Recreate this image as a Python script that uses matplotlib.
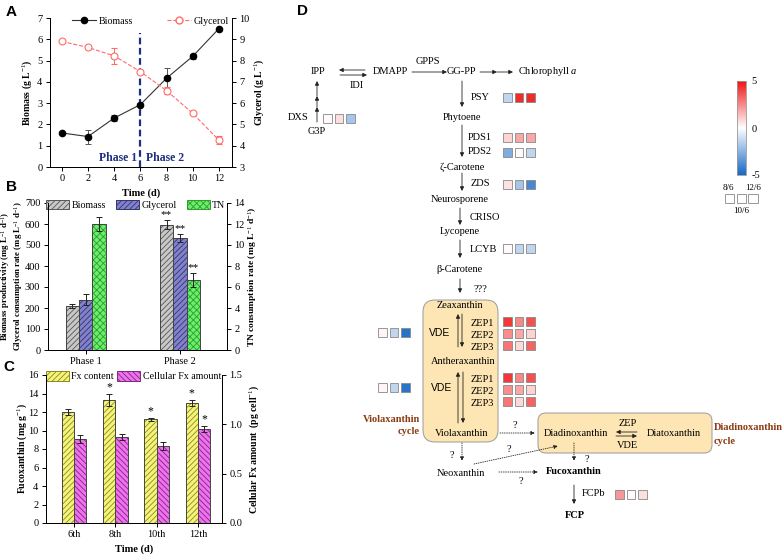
import matplotlib
matplotlib.use('Agg')
import matplotlib.pyplot as plt
import numpy as np
from matplotlib.patches import Rectangle, FancyBboxPatch, Patch
from matplotlib.lines import Line2D
from matplotlib.colors import LinearSegmentedColormap, Normalize
from matplotlib.cm import ScalarMappable

plt.rcParams['font.family'] = ['Liberation Serif', 'DejaVu Serif']
plt.rcParams['mathtext.fontset'] = 'custom'
plt.rcParams['mathtext.rm'] = 'Liberation Serif'
plt.rcParams['mathtext.it'] = 'Liberation Serif:italic'
plt.rcParams['mathtext.bf'] = 'Liberation Serif:bold'
plt.rcParams['font.size'] = 7.5
plt.rcParams['hatch.linewidth'] = 0.6
plt.rcParams['axes.linewidth'] = 0.7
plt.rcParams['xtick.major.size'] = 3
plt.rcParams['ytick.major.size'] = 3
plt.rcParams['xtick.major.width'] = 0.7
plt.rcParams['ytick.major.width'] = 0.7
plt.rcParams['xtick.major.pad'] = 2
plt.rcParams['ytick.major.pad'] = 2.5
plt.rcParams['axes.unicode_minus'] = False

# ---------------- data ----------------
time_days = [0, 2, 4, 6, 8, 10, 12]
biomass = [1.60, 1.43, 2.30, 2.93, 4.17, 5.20, 6.50]
biomass_err = [0.05, 0.33, 0.12, 0.08, 0.50, 0.12, 0.05]
glycerol = [8.90, 8.62, 8.22, 7.48, 6.59, 5.52, 4.26]
glycerol_err = [0.05, 0.08, 0.38, 0.06, 0.15, 0.06, 0.18]
phase_split = 6

phases = ['Phase 1', 'Phase 2']
biomass_prod = [210, 597]
biomass_prod_err = [8, 22]
glycerol_rate = [240, 533]
glycerol_rate_err = [25, 18]
tn_rate = [12.0, 6.67]
tn_rate_err = [0.65, 0.7]

days_c = ['6th', '8th', '10th', '12th']
fx_content = [12.0, 13.3, 11.2, 13.0]
fx_content_err = [0.3, 0.6, 0.2, 0.3]
cell_fx = [0.853, 0.872, 0.780, 0.954]
cell_fx_err = [0.04, 0.03, 0.04, 0.03]

# fold changes (log2) for 8/6, 10/6, 12/6
genes_fc = {
    'DXS': [0.15, 0.7, -1.9],
    'PSY': [-1.35, 4.5, 4.5],
    'PDS1': [0.9, 1.85, 1.85],
    'PDS2': [-2.7, 0.15, -1.35],
    'ZDS': [0.6, -1.9, -3.9],
    'LCYB': [0.15, -1.35, -1.35],
    'VDE_a': [0.2, -1.35, -4.6],
    'ZEP1_a': [4.2, 2.5, 3.7],
    'ZEP2_a': [2.4, 1.85, 0.9],
    'ZEP3_a': [2.9, 0.8, 3.3],
    'VDE_b': [0.2, -1.35, -4.6],
    'ZEP1_b': [4.2, 2.5, 3.7],
    'ZEP2_b': [2.4, 1.85, 0.9],
    'ZEP3_b': [2.9, 0.8, 3.3],
    'FCPb': [2.2, 0.15, 0.7],
}

W, H = 784, 554
fig = plt.figure(figsize=(W / 100, H / 100), dpi=100)


def ax_px(l, t, r, b):
    return fig.add_axes([l / W, 1 - b / H, (r - l) / W, (b - t) / H])


def label_x(px_left, px_right, px):
    return (px - px_left) / (px_right - px_left)

ERR = dict(fmt='none', ecolor='#222222', elinewidth=0.7, capsize=2, capthick=0.7)
LEG = dict(frameon=False, handletextpad=0.25, fontsize=7.2)

# ---------------- Panel A ----------------
L, T, R, B = 50, 18, 232, 167
axA = ax_px(L, T, R, B)
axA2 = axA.twinx()
axA.errorbar(time_days, biomass, yerr=biomass_err, color='#333333', lw=0.8,
             marker='o', ms=4.5, mfc='black', mec='black', ecolor='#555555',
             elinewidth=0.7, capsize=2, capthick=0.7, zorder=3)
axA2.errorbar(time_days, glycerol, yerr=glycerol_err, color='#ff6b6b', ls='--',
              lw=0.8, marker='o', ms=5, mfc='white', mec='#ff6b6b', mew=0.8,
              ecolor='#ff6b6b', elinewidth=0.7, capsize=2, capthick=0.7, zorder=3)
axA.plot([phase_split, phase_split], [0, 6.3], ls='--', color='#1f2f80', lw=1.6,
         dashes=(3, 1.6), zorder=2)
axA.text(4.3, 0.42, 'Phase 1', color='#1f2f80', fontweight='bold', fontsize=8.5,
         ha='center', va='center')
axA.text(7.9, 0.42, 'Phase 2', color='#1f2f80', fontweight='bold', fontsize=8.5,
         ha='center', va='center')
axA.set_xlim(-0.9, 13.0)
axA.set_ylim(0, 7)
axA2.set_ylim(3, 10)
axA.set_xticks(time_days)
axA.set_yticks(range(0, 8))
axA2.set_yticks(range(3, 11))
for a in (axA, axA2):
    a.spines['top'].set_visible(False)
axA.set_xlabel('Time (d)', fontweight='bold', labelpad=4)
axA.set_ylabel('Biomass (g L$^{-1}$)', fontweight='bold', fontsize=7)
axA2.set_ylabel('Glycerol (g L$^{-1}$)', fontweight='bold', fontsize=7)
axA.yaxis.set_label_coords(label_x(L, R, 34), 0.5)
axA2.yaxis.set_label_coords(label_x(L, R, 252), 0.5)
hA = [Line2D([], [], color='#333333', lw=0.8, marker='o', ms=4.5, mfc='black', mec='black'),
      Line2D([], [], color='#ff6b6b', lw=0.8, ls='--', marker='o', ms=5, mfc='white', mec='#ff6b6b')]
axA.legend(hA, ['Biomass', 'Glycerol'], loc='upper center', bbox_to_anchor=(0.55, 1.07),
           ncol=2, handlelength=2.4, columnspacing=3.4, **LEG)

# ---------------- Panel B ----------------
L, T, R, B = 48, 203, 227, 350
axB = ax_px(L, T, R, B)
axB2 = axB.twinx()
xb = np.arange(len(phases))
wb = 0.142
styles_B = [
    ('#c8c8c8', '#555555', '//////'),
    ('#8282cc', '#33336e', '//////'),
    ('#6af06a', '#2f9a2f', 'xxxxx'),
]
series_B = [(axB, xb - wb, biomass_prod, biomass_prod_err),
            (axB, xb, glycerol_rate, glycerol_rate_err),
            (axB2, xb + wb, tn_rate, tn_rate_err)]
for (ax, xx, vals, errs), (fc, hc, ht) in zip(series_B, styles_B):
    ax.bar(xx, vals, wb, color=fc, edgecolor=hc, hatch=ht, lw=0, zorder=2)
    ax.bar(xx, vals, wb, fill=False, edgecolor='#444444', lw=0.7, zorder=3)
    ax.errorbar(xx, vals, yerr=errs, zorder=4, **ERR)
# significance stars for phase 2
axB.annotate('**', (xb[1] - wb, biomass_prod[1] + biomass_prod_err[1]), xytext=(0, 0.5),
             textcoords='offset points', ha='center', va='bottom', fontsize=8)
axB.annotate('**', (xb[1], glycerol_rate[1] + glycerol_rate_err[1]), xytext=(0, 0.5),
             textcoords='offset points', ha='center', va='bottom', fontsize=8)
axB2.annotate('**', (xb[1] + wb, tn_rate[1] + tn_rate_err[1]), xytext=(0, 0.5),
              textcoords='offset points', ha='center', va='bottom', fontsize=8)
axB.set_xlim(-0.4, 1.5)
axB.set_ylim(0, 700)
axB2.set_ylim(0, 14)
axB.set_yticks(range(0, 701, 100))
axB2.set_yticks(range(0, 15, 2))
axB.set_xticks(xb)
axB.set_xticklabels(phases)
for a in (axB, axB2):
    a.spines['top'].set_visible(False)
axB.set_ylabel('Biomass productivity (mg L$^{-1}$ d$^{-1}$)\nGlycerol consumption rate (mg L$^{-1}$ d$^{-1}$)',
               fontweight='bold', linespacing=1.05, fontsize=6.3)
axB2.set_ylabel('TN consumption rate (mg L$^{-1}$ d$^{-1}$)', fontweight='bold', fontsize=6.8)
axB.yaxis.set_label_coords(label_x(L, R, 25.0), 0.5)
axB2.yaxis.set_label_coords(label_x(L, R, 246), 0.5)
hB = [Patch(facecolor=fc, edgecolor=hc, hatch=ht, lw=0.7) for fc, hc, ht in styles_B]
axB.legend(hB, ['Biomass', 'Glycerol', 'TN'], loc='upper center', bbox_to_anchor=(0.49, 1.085),
           ncol=3, handlelength=2.3, handleheight=1.15, columnspacing=1.0, **LEG)

# ---------------- Panel C ----------------
L, T, R, B = 46, 375, 222, 523
axC = ax_px(L, T, R, B)
axC2 = axC.twinx()
xc = np.arange(len(days_c))
wc = 0.3
styles_C = [('#f4f47a', '#8a8a20', '//////'), ('#f070f0', '#7a2a7a', '\\\\\\\\\\\\')]
axC.bar(xc - wc / 2, fx_content, wc, color=styles_C[0][0], edgecolor=styles_C[0][1],
        hatch=styles_C[0][2], lw=0, zorder=2)
axC.bar(xc - wc / 2, fx_content, wc, fill=False, edgecolor='#444444', lw=0.7, zorder=3)
axC.errorbar(xc - wc / 2, fx_content, yerr=fx_content_err, zorder=4, **ERR)
axC2.bar(xc + wc / 2, cell_fx, wc, color=styles_C[1][0], edgecolor=styles_C[1][1],
         hatch=styles_C[1][2], lw=0, zorder=2)
axC2.bar(xc + wc / 2, cell_fx, wc, fill=False, edgecolor='#444444', lw=0.7, zorder=3)
axC2.errorbar(xc + wc / 2, cell_fx, yerr=cell_fx_err, zorder=4, **ERR)
for i in (1, 2, 3):
    axC.annotate('*', (xc[i] - wc / 2, fx_content[i] + fx_content_err[i]), xytext=(0, 0.5),
                 textcoords='offset points', ha='center', va='bottom', fontsize=8.5)
axC2.annotate('*', (xc[3] + wc / 2, cell_fx[3] + cell_fx_err[3]), xytext=(0, 0.5),
              textcoords='offset points', ha='center', va='bottom', fontsize=8.5)
axC.set_xlim(-0.68, 3.58)
axC.set_ylim(0, 16)
axC2.set_ylim(0, 1.5)
axC.set_yticks(range(0, 17, 2))
axC2.set_yticks([0.0, 0.5, 1.0, 1.5])
axC2.set_yticklabels(['0.0', '0.5', '1.0', '1.5'])
axC.set_xticks(xc)
axC.set_xticklabels(days_c)
for a in (axC, axC2):
    a.spines['top'].set_visible(False)
axC.set_xlabel('Time (d)', fontweight='bold', labelpad=4)
axC.set_ylabel('Fucoxanthin (mg g$^{-1}$)', fontweight='bold', fontsize=7)
axC2.set_ylabel('Cellular Fx amount  (pg cell$^{-1}$)', fontweight='bold', fontsize=7)
axC.yaxis.set_label_coords(label_x(L, R, 29), 0.5)
axC2.yaxis.set_label_coords(label_x(L, R, 247), 0.5)
hC = [Patch(facecolor=fc, edgecolor=hc, hatch=ht, lw=0.7) for fc, hc, ht in styles_C]
axC.legend(hC, ['Fx content', 'Cellular Fx amount'], loc='upper center',
           bbox_to_anchor=(0.497, 1.09), ncol=2, handlelength=2.3,
           handleheight=1.15, columnspacing=0.3, **LEG)

# ---------------- Panel D ----------------
axD = fig.add_axes([0, 0, 1, 1])
axD.set_xlim(0, W)
axD.set_ylim(H, 0)
axD.axis('off')
axD.patch.set_alpha(0)

for lab, x, y in [('A', 11, 12), ('B', 12, 187), ('C', 9, 367), ('D', 303, 11)]:
    axD.text(x, y, lab, family=['Liberation Sans'], fontweight='bold', fontsize=11,
             ha='center', va='center')

# boxes (cycles)
axD.add_patch(FancyBboxPatch((423, 300), 75, 142, boxstyle='round,pad=0,rounding_size=12',
                             facecolor='#fde6b3', edgecolor='#9a9a9a', lw=0.7, zorder=1))
axD.add_patch(FancyBboxPatch((538, 413), 174, 40, boxstyle='round,pad=0,rounding_size=8',
                             facecolor='#fde6b3', edgecolor='#9a9a9a', lw=0.7, zorder=1))

TXT = dict(ha='center', va='center', fontsize=7.5, zorder=3)
labels_D = [
    ('IPP', 318, 72), ('IDI', 357, 85), ('DMAPP', 390, 72), ('GPPS', 428, 62),
    ('GG-PP', 461, 72), ('DXS', 298, 118), ('G3P', 317, 131),
    ('PSY', 480, 97), ('Phytoene', 462, 118), ('PDS1', 480, 137), ('PDS2', 480, 152),
    ('ζ-Carotene', 462, 167), ('ZDS', 480, 184), ('Neurosporene', 460, 199),
    ('CRISO', 485, 217), ('Lycopene', 460, 231), ('LCYB', 483, 249),
    ('β-Carotene', 460, 270), ('???', 480, 289), ('Zeaxanthin', 460, 306),
    ('ZEP1', 482, 323), ('ZEP2', 482, 335), ('ZEP3', 482, 347),
    ('Antheraxanthin', 463, 362),
    ('ZEP1', 482, 379), ('ZEP2', 482, 391), ('ZEP3', 482, 403),
    ('Violaxanthin', 462, 433), ('Neoxanthin', 461, 473),
    ('Diadinoxanthin', 576, 434), ('ZEP', 628, 423), ('VDE', 628, 445),
    ('Diatoxanthin', 674, 434), ('FCPb', 594, 494),
    ('?', 515, 425), ('?', 452, 455), ('?', 509, 449), ('?', 521, 481), ('?', 587, 459),
]
for s, x, y in labels_D:
    axD.text(x, y, s, **TXT)
axD.text(518, 72, 'Chlorophyll $a$', ha='left', va='center', fontsize=7.5)
for x, y in [(440, 333), (442, 388)]:
    axD.text(x, y, 'VDE', family=['Liberation Sans'], **TXT)
for s, x, y in [('Fucoxanthin', 574, 472), ('FCP', 575, 516)]:
    axD.text(x, y, s, fontweight='bold', **TXT)
brown = '#8b3a12'
axD.text(420, 419, 'Violaxanthin', ha='right', va='center', fontweight='bold', color=brown, fontsize=7.5)
axD.text(420, 432, 'cycle', ha='right', va='center', fontweight='bold', color=brown, fontsize=7.5)
axD.text(714, 428, 'Diadinoxanthin', ha='left', va='center', fontweight='bold', color=brown, fontsize=7.5)
axD.text(714, 441, 'cycle', ha='left', va='center', fontweight='bold', color=brown, fontsize=7.5)


def arrow(x0, y0, x1, y1, ls='-'):
    axD.annotate('', xy=(x1, y1), xytext=(x0, y0),
                 arrowprops=dict(arrowstyle='-|>', color='#222222', lw=0.6, ls=ls,
                                 mutation_scale=6, shrinkA=0, shrinkB=0), zorder=2)

solid_arrows = [
    (365, 70, 339, 70), (340, 75, 367, 75), (412, 72, 447, 72),
    (480, 72, 497, 72), (497, 72, 513, 72),
    (317, 122, 317, 107), (317, 107, 317, 96), (317, 96, 317, 81),
    (462, 81, 462, 107), (462, 125, 462, 157), (462, 173, 462, 191),
    (460, 208, 460, 225), (460, 240, 460, 258), (460, 279, 460, 293),
    (458, 347, 458, 314), (462, 314, 462, 347),
    (458, 423, 458, 372), (463, 372, 463, 423),
    (637, 432, 616, 432), (616, 436, 637, 436),
    (574, 485, 574, 504),
]
for a in solid_arrows:
    arrow(*a)
dotted_arrows = [
    (500, 433, 535, 433), (462, 443, 462, 461), (474, 464, 558, 446),
    (499, 472, 538, 472), (574, 443, 574, 461),
]
for a in dotted_arrows:
    arrow(*a, ls=':')

# heat cells
cmap = LinearSegmentedColormap.from_list('fc', ['#1668c4', '#ffffff', '#f01414'])
norm = Normalize(-5, 5)
cell_pos = {
    'DXS': (323, 118.5), 'PSY': (503, 97.5), 'PDS1': (503, 137), 'PDS2': (503, 152.5),
    'ZDS': (503, 184.5), 'LCYB': (503, 248.5), 'VDE_a': (378, 332.5),
    'ZEP1_a': (503, 321.5), 'ZEP2_a': (503, 333.5), 'ZEP3_a': (503, 345.5),
    'VDE_b': (378, 387), 'ZEP1_b': (503, 377), 'ZEP2_b': (503, 389),
    'ZEP3_b': (503, 401.5), 'FCPb': (615, 494.5),
}
cw, chh, pitch = 8.6, 9.0, 11.7
for g, vals in genes_fc.items():
    x0, yc = cell_pos[g]
    for i, v in enumerate(vals):
        axD.add_patch(Rectangle((x0 + i * pitch, yc - chh / 2), cw, chh,
                                facecolor=cmap(norm(v)), edgecolor='#888888', lw=0.6, zorder=3))
# key boxes
for i in range(3):
    axD.add_patch(Rectangle((725 + i * 11.7, 194), 9.3, 9.3, facecolor='white',
                            edgecolor='#888888', lw=0.6, zorder=3))
axD.text(728, 188, '8/6', ha='center', va='center', fontsize=6.5)
axD.text(753, 188, '12/6', ha='center', va='center', fontsize=6.5)
axD.text(741, 211, '10/6', ha='center', va='center', fontsize=6.5)

# colorbar
cax = ax_px(737, 81, 746, 175)
sm = ScalarMappable(norm=norm, cmap=cmap)
cb = fig.colorbar(sm, cax=cax, ticks=[-5, 0, 5])
cb.ax.set_yticklabels(['-5', '0', '5'])
cb.ax.tick_params(length=0, labelsize=7.5, pad=4)
cb.outline.set_edgecolor('#999999')
cb.outline.set_linewidth(0.6)

fig.savefig('out.png', dpi=100)
